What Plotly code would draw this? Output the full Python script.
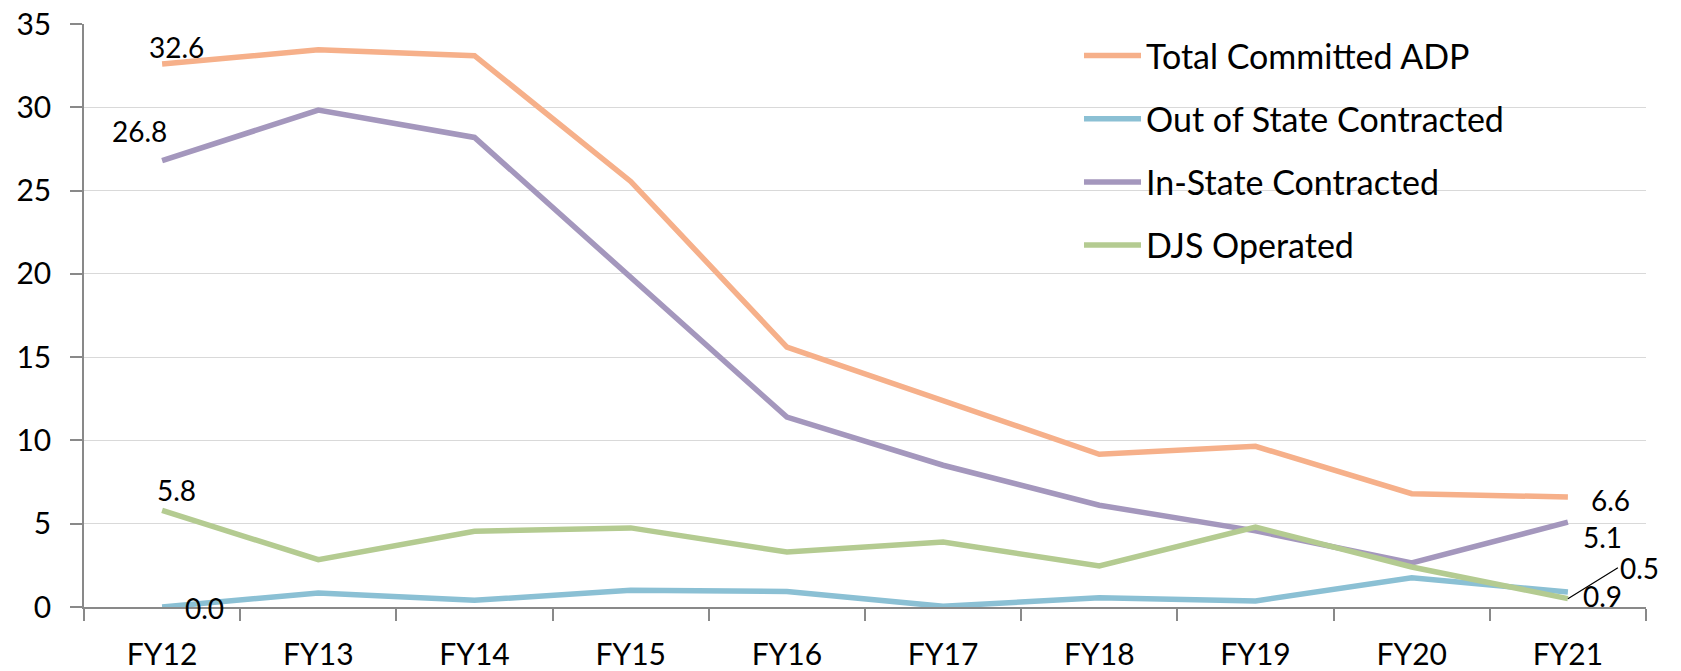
import plotly.graph_objects as go

categories = ["FY12", "FY13", "FY14", "FY15", "FY16", "FY17", "FY18", "FY19", "FY20", "FY21"]
total_committed = [32.6, 33.45, 33.1, 25.55, 15.6, 12.4, 9.17, 9.65, 6.8, 6.6]
out_of_state = [0.0, 0.84, 0.4, 1.0, 0.93, 0.04, 0.56, 0.36, 1.76, 0.9]
in_state = [26.8, 29.83, 28.19, 19.8, 11.4, 8.51, 6.11, 4.57, 2.64, 5.1]
djs_operated = [5.8, 2.84, 4.55, 4.75, 3.3, 3.9, 2.46, 4.8, 2.4, 0.5]

series_names = ["Total Committed ADP", "Out of State Contracted", "In-State Contracted", "DJS Operated"]
series_values = [total_committed, out_of_state, in_state, djs_operated]
series_colors = ["#F6B08A", "#8BC0D4", "#A497BD", "#B4CB91"]

FONT = "Lato"

fig = go.Figure()
for i, (name, vals, col) in enumerate(zip(series_names, series_values, series_colors)):
    fig.add_trace(go.Scatter(
        x=categories, y=vals, name=name, mode="lines",
        line=dict(color=col, width=5.5),
        legendgroup=f"g{i}",
        hoverinfo="skip",
    ))

def lab(series, idx, dx, dy, text=None):
    v = series[idx]
    return dict(x=categories[idx], y=v, text=text if text else f"{v:.1f}",
                showarrow=False, xshift=dx, yshift=dy,
                font=dict(family=FONT, size=28, color="#000000"))

annotations = [
    lab(total_committed, 0, 14, 17),
    lab(in_state, 0, -23, 30),
    lab(djs_operated, 0, 14, 20),
    lab(out_of_state, 0, 42, -1),
    lab(total_committed, 9, 43, -3),
    lab(in_state, 9, 35, -15),
    lab(out_of_state, 9, 35, -4),
]
annotations.append(dict(
    x=categories[9], y=djs_operated[9], text=f"{djs_operated[9]:.1f}",
    showarrow=True, arrowhead=0, arrowwidth=1.2, arrowcolor="#000000",
    ax=50, ay=-31, xanchor="left", standoff=0,
    font=dict(family=FONT, size=28, color="#000000"),
))

fig.update_layout(
    width=1681, height=671,
    margin=dict(l=84, r=35, t=24, b=64),
    paper_bgcolor="white", plot_bgcolor="white",
    font=dict(family=FONT, size=28, color="#000000"),
    showlegend=True,
    legend=dict(
        x=0.637, y=0.995, xanchor="left", yanchor="top",
        font=dict(family=FONT, size=34, color="#000000"),
        traceorder="grouped", tracegroupgap=16,
        itemwidth=57, bgcolor="rgba(0,0,0,0)",
    ),
    annotations=annotations,
    xaxis=dict(
        type="category", range=[-0.5, 9.5], automargin=False,
        showline=True, linecolor="#898989", linewidth=1.5,
        ticks="outside", tickson="boundaries", ticklen=12, tickcolor="#898989", tickwidth=1.5,
        showgrid=False, tickfont=dict(family=FONT, size=30),
        ticklabelstandoff=20,
    ),
    yaxis=dict(
        range=[0, 35], dtick=5, tick0=0, automargin=False,
        showline=True, linecolor="#898989", linewidth=1.5,
        ticks="outside", ticklen=12, tickcolor="#898989", tickwidth=1.5,
        showgrid=True, gridcolor="#D9D9D9", gridwidth=1.3,
        zeroline=False, tickfont=dict(family=FONT, size=30),
        ticklabelstandoff=13,
    ),
)

fig.write_html(
    "out.html",
    config={"displayModeBar": False},
    post_script="document.body.style.margin='0';document.body.style.overflow='hidden';",
)
